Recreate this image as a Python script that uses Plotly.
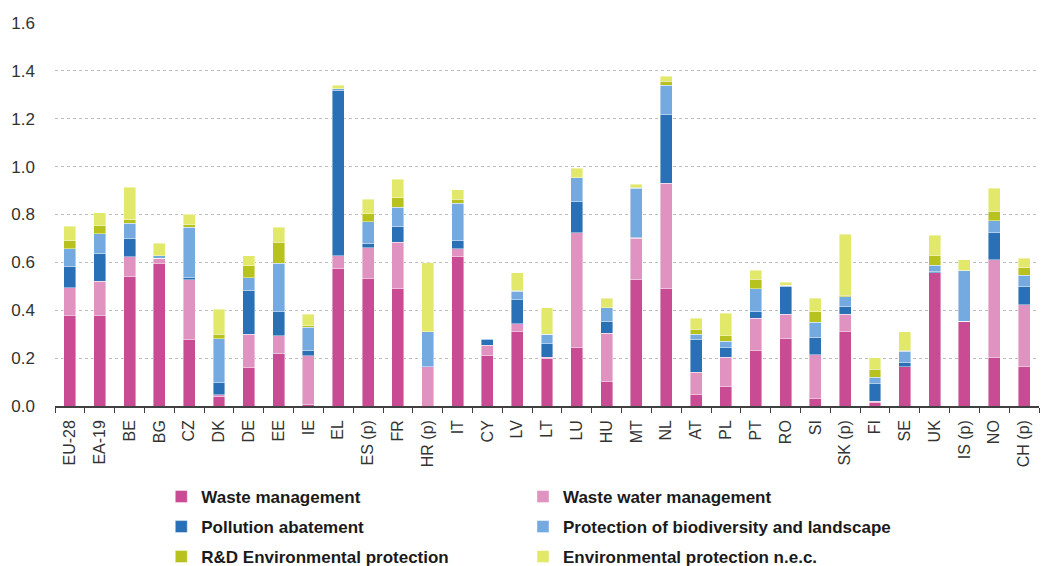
import plotly.graph_objects as go

countries = ["EU-28", "EA-19", "BE", "BG", "CZ", "DK", "DE", "EE", "IE", "EL",
             "ES (p)", "FR", "HR (p)", "IT", "CY", "LV", "LT", "LU", "HU", "MT",
             "NL", "AT", "PL", "PT", "RO", "SI", "SK (p)", "FI", "SE", "UK",
             "IS (p)", "NO", "CH (p)"]

waste_management = [0.377, 0.377, 0.540, 0.595, 0.276, 0.038, 0.159, 0.221, 0.008, 0.574,
                    0.533, 0.489, 0.000, 0.623, 0.209, 0.310, 0.198, 0.243, 0.103, 0.529,
                    0.489, 0.047, 0.081, 0.232, 0.282, 0.031, 0.310, 0.015, 0.165, 0.557,
                    0.355, 0.202, 0.165]
waste_water = [0.117, 0.145, 0.083, 0.023, 0.252, 0.009, 0.140, 0.072, 0.201, 0.054,
               0.129, 0.195, 0.163, 0.033, 0.044, 0.033, 0.006, 0.480, 0.201, 0.172,
               0.442, 0.095, 0.123, 0.134, 0.101, 0.184, 0.073, 0.005, 0.000, 0.000,
               0.000, 0.410, 0.257]
pollution = [0.090, 0.117, 0.078, 0.000, 0.008, 0.051, 0.185, 0.101, 0.023, 0.691,
             0.018, 0.067, 0.000, 0.035, 0.023, 0.101, 0.056, 0.130, 0.051, 0.005,
             0.285, 0.134, 0.039, 0.028, 0.117, 0.073, 0.034, 0.072, 0.016, 0.006,
             0.000, 0.111, 0.078]
biodiversity = [0.072, 0.080, 0.063, 0.010, 0.211, 0.184, 0.051, 0.202, 0.096, 0.006,
                0.089, 0.080, 0.147, 0.156, 0.006, 0.036, 0.039, 0.101, 0.055, 0.203,
                0.124, 0.023, 0.028, 0.095, 0.005, 0.061, 0.040, 0.028, 0.048, 0.026,
                0.209, 0.050, 0.046]
research = [0.035, 0.034, 0.015, 0.000, 0.010, 0.017, 0.050, 0.088, 0.007, 0.000,
            0.034, 0.039, 0.000, 0.017, 0.000, 0.004, 0.000, 0.000, 0.000, 0.004,
            0.017, 0.022, 0.022, 0.040, 0.000, 0.045, 0.005, 0.034, 0.003, 0.039,
            0.003, 0.041, 0.032]
other_nec = [0.060, 0.055, 0.135, 0.052, 0.044, 0.106, 0.043, 0.062, 0.049, 0.015,
             0.061, 0.078, 0.289, 0.039, 0.000, 0.073, 0.111, 0.039, 0.040, 0.014,
             0.021, 0.045, 0.095, 0.039, 0.012, 0.056, 0.256, 0.048, 0.078, 0.085,
             0.045, 0.095, 0.039]

series = [
    ("Waste management", waste_management, "#C84B94"),
    ("Waste water management", waste_water, "#E092C0"),
    ("Pollution abatement", pollution, "#2A70B6"),
    ("Protection of biodiversity and landscape", biodiversity, "#75AAE0"),
    ("R&D Environmental protection", research, "#B8C21E"),
    ("Environmental protection n.e.c.", other_nec, "#E2E86A"),
]

# legend grid: two columns, three rows; each entry gets its own legend box
legend_cols = [0.108, 0.4756]
legend_rows = [497, 527, 557]

legend_font = dict(family="Liberation Sans, Arial, sans-serif", size=17,
                   color="#1A1A1A", weight="bold")

fig = go.Figure()
legend_layout = {}
for i, (name, values, color) in enumerate(series):
    key = "legend" if i == 0 else f"legend{i + 1}"
    fig.add_trace(go.Bar(
        x=countries, y=values, name=name, legend=key, showlegend=True,
        marker=dict(color=color, line=dict(color="rgba(255,255,255,0.7)", width=0.6)),
    ))
    legend_layout[key] = dict(
        orientation="h", xref="paper", yref="container",
        xanchor="left", yanchor="middle",
        x=legend_cols[i % 2], y=1 - legend_rows[i // 2] / 566,
        font=legend_font, bgcolor="rgba(0,0,0,0)",
        itemclick=False, itemdoubleclick=False,
    )

fig.update_layout(
    width=1041, height=566,
    margin=dict(l=55, r=2, t=23, b=160),
    paper_bgcolor="white", plot_bgcolor="white",
    barmode="stack", bargap=0.6, showlegend=True,
    font=dict(family="Liberation Sans, Arial, sans-serif", color="#333333"),
    xaxis=dict(
        tickangle=-90, tickfont=dict(size=16, color="#333333"),
        showline=True, linecolor="#404040", linewidth=1.5,
        ticks="outside", tickson="boundaries", ticklen=5, tickcolor="#404040",
        showgrid=False, ticklabelstandoff=6,
    ),
    yaxis=dict(
        range=[0, 1.6], dtick=0.2, tickformat=".1f",
        tickfont=dict(size=17, color="#333333"),
        showgrid=True, gridcolor="#BDBDBD", griddash="dot", gridwidth=1,
        zeroline=False, showline=False, ticks="", ticklabelstandoff=19,
    ),
    **legend_layout,
)

fig.write_html("out.html")
